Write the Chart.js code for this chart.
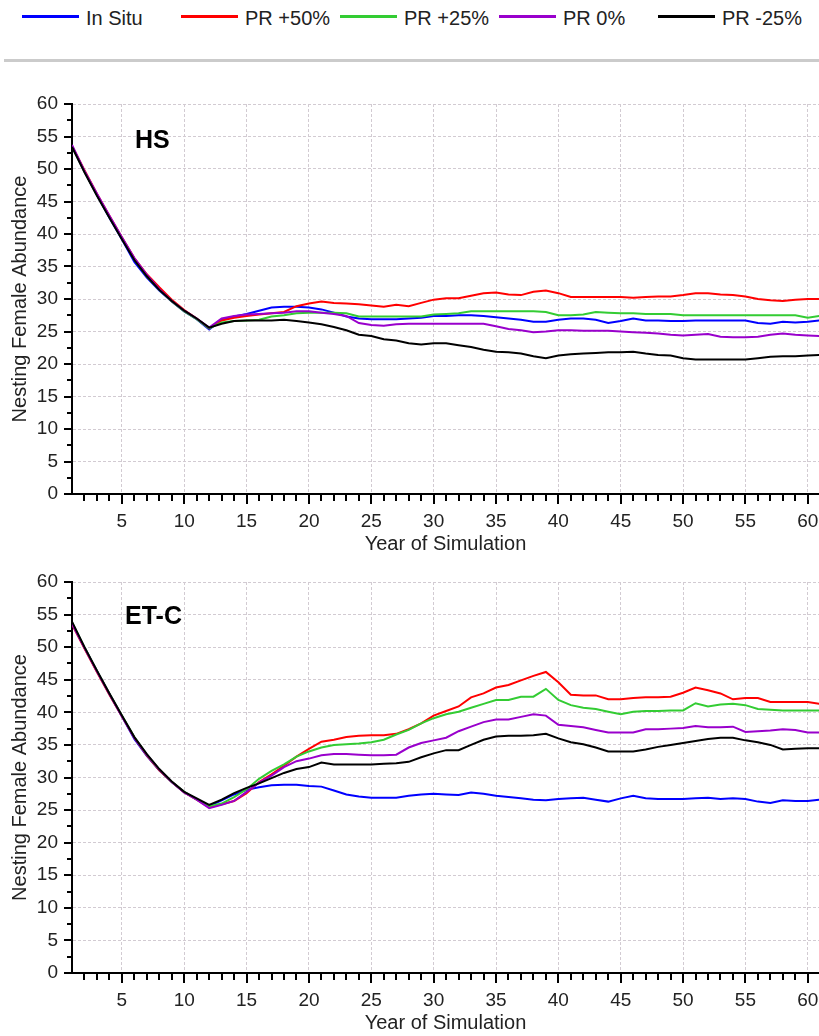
<!DOCTYPE html>
<html>
<head>
<meta charset="utf-8">
<script src="https://cdn.jsdelivr.net/npm/chart.js@4.4.1/dist/chart.umd.min.js"></script>
<style>
  body { margin: 0; background: #fff; font-family: "Liberation Sans", Arial, sans-serif; }
  #legend { position: absolute; left: 0; top: 0; width: 819px; height: 40px; }
  .lg-line { position: absolute; top: 15px; width: 57px; height: 3px; }
  .lg-text { position: absolute; top: 7px; font-size: 20px; line-height: 22px; color: #222; white-space: nowrap; }
  #sep { position: absolute; left: 4px; top: 59px; width: 815px; height: 3px; background: #cbcbcb; }
  .wrap { position: absolute; left: 0; width: 819px; }
</style>
</head>
<body>
<div id="legend"></div>
<div id="sep"></div>
<div class="wrap" style="top:66px;height:504px"><canvas id="hs" width="819" height="504"></canvas></div>
<div class="wrap" style="top:570px;height:466px"><canvas id="etc" width="819" height="466"></canvas></div>
<script>
// years 1..61
const years = Array.from({ length: 61 }, (_, i) => i + 1)
const seriesNames = ['In Situ', 'PR +50%', 'PR +25%', 'PR 0%', 'PR -25%']
const seriesColors = ['#0000ff', '#ff0000', '#33cc33', '#9900cc', '#000000']
const xTicks = [5, 10, 15, 20, 25, 30, 35, 40, 45, 50, 55, 60]
const yTicks = [0, 5, 10, 15, 20, 25, 30, 35, 40, 45, 50, 55, 60]

// HS
const hsInSitu = [53.5, 49.6, 46.0, 42.5, 39.2, 35.7, 33.3, 31.3, 29.6, 28.1, 26.9, 25.3,
  26.8, 27.3, 27.7, 28.2, 28.7, 28.8, 28.8, 28.7, 28.4, 27.9,
  27.3, 27.0, 26.9, 26.9, 26.9, 27.0, 27.1, 27.4, 27.4, 27.5,
  27.5, 27.4, 27.2, 27.0, 26.8, 26.5, 26.5, 26.8, 27.0, 27.0,
  26.8, 26.3, 26.6, 27.0, 26.7, 26.7, 26.6, 26.6, 26.7, 26.7,
  26.7, 26.7, 26.7, 26.3, 26.2, 26.5, 26.4, 26.5, 26.7]
const hsPr50 = [53.6, 49.8, 46.2, 42.8, 39.5, 36.3, 33.8, 31.8, 29.9, 28.3, 27.0, 25.5,
  26.7, 27.1, 27.4, 27.6, 27.8, 28.0, 28.9, 29.3, 29.6, 29.4,
  29.3, 29.2, 29.0, 28.8, 29.1, 28.9, 29.4, 29.9, 30.1, 30.1,
  30.5, 30.9, 31.0, 30.7, 30.6, 31.1, 31.3, 30.9, 30.3, 30.3,
  30.3, 30.3, 30.3, 30.2, 30.3, 30.4, 30.4, 30.6, 30.9, 30.9,
  30.7, 30.6, 30.4, 30.0, 29.8, 29.7, 29.9, 30.0, 30.0]
const hsPr25 = [53.5, 49.6, 46.0, 42.6, 39.4, 36.1, 33.5, 31.4, 29.6, 28.1, 26.9, 25.5,
  26.4, 26.6, 26.7, 26.8, 27.3, 27.5, 27.8, 27.9, 27.9, 27.9,
  27.8, 27.3, 27.3, 27.3, 27.3, 27.3, 27.3, 27.6, 27.7, 27.8,
  28.1, 28.1, 28.1, 28.1, 28.1, 28.1, 28.0, 27.5, 27.5, 27.6,
  28.0, 27.9, 27.8, 27.8, 27.7, 27.7, 27.7, 27.5, 27.5, 27.5,
  27.5, 27.5, 27.5, 27.5, 27.5, 27.5, 27.5, 27.1, 27.4]
const hsPr0 = [53.7, 49.7, 46.2, 42.8, 39.5, 36.3, 33.7, 31.5, 29.7, 28.2, 27.0, 25.6,
  27.0, 27.4, 27.6, 27.7, 27.8, 27.9, 28.1, 28.1, 27.9, 27.7,
  27.4, 26.3, 26.0, 25.9, 26.1, 26.2, 26.2, 26.2, 26.2, 26.2,
  26.2, 26.2, 25.8, 25.4, 25.2, 24.9, 25.0, 25.2, 25.2, 25.1,
  25.1, 25.1, 25.0, 24.9, 24.8, 24.7, 24.5, 24.4, 24.5, 24.6,
  24.2, 24.1, 24.1, 24.2, 24.5, 24.7, 24.5, 24.4, 24.3]
const hsPrM25 = [53.4, 49.5, 45.9, 42.5, 39.2, 36.0, 33.5, 31.4, 29.7, 28.2, 27.0, 25.6,
  26.2, 26.6, 26.7, 26.7, 26.7, 26.8, 26.6, 26.4, 26.1, 25.7,
  25.2, 24.5, 24.3, 23.8, 23.6, 23.2, 23.0, 23.2, 23.2, 22.9,
  22.6, 22.2, 21.9, 21.8, 21.6, 21.2, 20.9, 21.3, 21.5, 21.6,
  21.7, 21.8, 21.8, 21.9, 21.6, 21.4, 21.3, 20.9, 20.7, 20.7,
  20.7, 20.7, 20.7, 20.9, 21.1, 21.2, 21.2, 21.3, 21.4]

// ET-C
const etcInSitu = [53.7, 49.9, 46.3, 42.8, 39.4, 35.9, 33.3, 31.1, 29.3, 27.7, 26.7, 25.6,
  26.5, 27.4, 28.1, 28.5, 28.8, 28.9, 28.9, 28.7, 28.6, 28.0,
  27.4, 27.1, 26.9, 26.9, 26.9, 27.2, 27.4, 27.5, 27.4, 27.3,
  27.7, 27.5, 27.2, 27.0, 26.8, 26.6, 26.5, 26.7, 26.8, 26.9,
  26.6, 26.3, 26.8, 27.2, 26.8, 26.7, 26.7, 26.7, 26.8, 26.9,
  26.7, 26.8, 26.7, 26.3, 26.1, 26.5, 26.4, 26.4, 26.6]
const etcPr50 = [53.5, 49.8, 46.2, 42.7, 39.4, 36.1, 33.4, 31.1, 29.3, 27.7, 26.6, 25.4,
  25.9, 26.4, 27.6, 29.3, 30.5, 31.8, 33.2, 34.4, 35.5, 35.8,
  36.2, 36.4, 36.5, 36.5, 36.7, 37.4, 38.3, 39.5, 40.2, 40.9,
  42.3, 42.9, 43.8, 44.2, 44.9, 45.6, 46.2, 44.6, 42.7, 42.6,
  42.6, 42.0, 42.0, 42.2, 42.3, 42.3, 42.4, 43.0, 43.8, 43.4,
  42.9, 42.0, 42.2, 42.2, 41.6, 41.6, 41.6, 41.6, 41.3]
const etcPr25 = [53.8, 50.0, 46.4, 42.9, 39.5, 36.2, 33.5, 31.2, 29.3, 27.8, 26.6, 25.6,
  26.0, 27.0, 28.2, 29.8, 31.0, 32.0, 33.2, 34.0, 34.6, 35.0,
  35.1, 35.2, 35.4, 35.8, 36.6, 37.3, 38.3, 39.1, 39.7, 40.1,
  40.7, 41.3, 41.9, 41.9, 42.4, 42.4, 43.6, 41.9, 41.1, 40.7,
  40.5, 40.1, 39.7, 40.1, 40.2, 40.2, 40.3, 40.3, 41.4, 40.9,
  41.2, 41.3, 41.1, 40.5, 40.4, 40.3, 40.3, 40.3, 40.3]
const etcPr0 = [53.6, 49.9, 46.3, 42.8, 39.4, 36.1, 33.5, 31.2, 29.3, 27.7, 26.6, 25.3,
  25.8, 26.4, 27.8, 29.2, 30.3, 31.6, 32.5, 32.9, 33.4, 33.6,
  33.6, 33.5, 33.4, 33.4, 33.5, 34.6, 35.3, 35.7, 36.1, 37.1,
  37.8, 38.5, 38.9, 38.9, 39.3, 39.7, 39.5, 38.1, 37.9, 37.7,
  37.3, 36.9, 36.9, 36.9, 37.4, 37.4, 37.5, 37.6, 37.9, 37.7,
  37.7, 37.8, 37.0, 37.1, 37.2, 37.4, 37.3, 36.9, 36.9]
const etcPrM25 = [53.9, 50.0, 46.4, 42.9, 39.5, 36.2, 33.6, 31.3, 29.4, 27.8, 26.8, 25.8,
  26.6, 27.6, 28.4, 29.1, 29.9, 30.7, 31.3, 31.6, 32.3, 32.0,
  32.0, 32.0, 32.0, 32.1, 32.2, 32.4, 33.1, 33.7, 34.2, 34.2,
  35.0, 35.8, 36.3, 36.4, 36.4, 36.5, 36.7, 36.0, 35.4, 35.1,
  34.6, 34.0, 34.0, 34.0, 34.3, 34.7, 35.0, 35.3, 35.6, 35.9,
  36.1, 36.1, 35.7, 35.4, 35.0, 34.3, 34.4, 34.5, 34.5]

Chart.defaults.font.family = '"Liberation Sans", Arial, sans-serif'
Chart.defaults.color = '#222'
Chart.defaults.animation = false

// legend (html, built from the series)
const legendEl = document.getElementById('legend')
seriesNames.forEach((name, i) => {
  const line = document.createElement('div')
  line.className = 'lg-line'
  line.style.left = (22 + i * 159) + 'px'
  line.style.background = seriesColors[i]
  const txt = document.createElement('div')
  txt.className = 'lg-text'
  txt.style.left = (86 + i * 159) + 'px'
  txt.textContent = name
  legendEl.appendChild(line)
  legendEl.appendChild(txt)
})

// minor + major tick marks on both axes
const axisTicks = {
  id: 'axisTicks',
  afterDraw(chart){
    const { ctx, chartArea, scales: { x, y } } = chart
    ctx.save()
    ctx.strokeStyle = '#000'
    ctx.lineWidth = 2
    ctx.beginPath()
    for (let v = 0; v <= 60; v += 2.5) {
      const py = Math.round(y.getPixelForValue(v))
      const len = v % 5 === 0 ? 8 : 5
      ctx.moveTo(chartArea.left - len, py)
      ctx.lineTo(chartArea.left, py)
    }
    for (let yr = 2; yr <= 60; yr++) {
      const px = Math.round(x.getPixelForValue(yr))
      const len = yr % 5 === 0 ? 10 : 7
      ctx.moveTo(px, chartArea.bottom)
      ctx.lineTo(px, chartArea.bottom + len)
    }
    ctx.stroke()
    ctx.restore()
  }
}

// bold panel name inside the plot
const panelLabel = {
  id: 'panelLabel',
  afterDraw(chart, args, opts){
    const { ctx, chartArea } = chart
    ctx.save()
    ctx.font = 'bold 25px "Liberation Sans", Arial, sans-serif'
    ctx.fillStyle = '#000'
    ctx.textBaseline = 'alphabetic'
    ctx.fillText(opts.text, chartArea.left + opts.dx, chartArea.top + opts.dy)
    ctx.restore()
  }
}

function makeChart(id, series, label, geo){
  const canvas = document.getElementById(id)
  return new Chart(canvas, {
    type: 'line',
    data: {
      labels: years,
      datasets: series.map((data, i) => {
        return {
          label: seriesNames[i],
          data,
          borderColor: seriesColors[i],
          backgroundColor: seriesColors[i],
          borderWidth: 2,
          pointRadius: 0,
          tension: 0,
          order: series.length - i // black (last) ends up on top
        }
      })
    },
    plugins: [axisTicks, panelLabel],
    options: {
      responsive: false,
      maintainAspectRatio: false,
      layout: { padding: { top: geo.top, left: 0, right: 0, bottom: 0 } },
      plugins: {
        legend: { display: false },
        tooltip: { enabled: false },
        panelLabel: label
      },
      scales: {
        x: {
          type: 'linear',
          min: 1,
          max: 60.9,
          afterBuildTicks: scale => { scale.ticks = xTicks.map(v => ({ value: v })) },
          afterFit: scale => {
            scale.height = geo.xHeight
            scale.paddingLeft = 0
            scale.paddingRight = 0
          },
          grid: { color: '#d2cbd2', lineWidth: 1, drawTicks: false },
          border: { color: '#000', width: 2, dash: [3, 2] },
          ticks: { autoSkip: false, maxRotation: 0, padding: 16, font: { size: 19 }, color: '#222' },
          title: { display: true, text: 'Year of Simulation', font: { size: 20 }, color: '#222', padding: { top: 0, bottom: geo.titlePad } }
        },
        y: {
          min: 0,
          max: 60,
          afterBuildTicks: scale => { scale.ticks = yTicks.map(v => ({ value: v })) },
          afterFit: scale => {
            scale.width = 72
            scale.paddingTop = 0
            scale.paddingBottom = 0
          },
          grid: { color: '#d2cbd2', lineWidth: 1, drawTicks: false },
          border: { color: '#000', width: 2, dash: [3, 2] },
          ticks: { padding: 14, font: { size: 19 }, color: '#222' },
          title: { display: true, text: 'Nesting Female Abundance', font: { size: 20 }, color: '#222', padding: { top: 8, bottom: 0 } }
        }
      }
    }
  })
}

makeChart('hs', [hsInSitu, hsPr50, hsPr25, hsPr0, hsPrM25],
  { text: 'HS', dx: 63, dy: 44 }, { top: 38, xHeight: 76, titlePad: 14 })
makeChart('etc', [etcInSitu, etcPr50, etcPr25, etcPr0, etcPrM25],
  { text: 'ET-C', dx: 53, dy: 42 }, { top: 12, xHeight: 63, titlePad: 1 })
</script>
</body>
</html>
